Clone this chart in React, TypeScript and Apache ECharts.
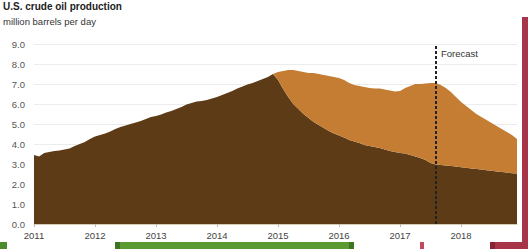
import React, { useEffect, useRef } from "react";
import * as echarts from "echarts";

const years = ["2011", "2012", "2013", "2014", "2015", "2016", "2017", "2018"];
const months = ["01", "02", "03", "04", "05", "06", "07", "08", "09", "10", "11", "12"];
const categories: string[] = years.flatMap((y) => months.map((m) => `${y}-${m}`));

const pre2015Prod = [
  3.45, 3.38, 3.55, 3.6, 3.65, 3.68, 3.72, 3.78, 3.9, 4.0, 4.1, 4.25,
  4.38, 4.45, 4.52, 4.62, 4.75, 4.85, 4.92, 5.0, 5.08, 5.15, 5.25, 5.35,
  5.4, 5.48, 5.58, 5.65, 5.75, 5.85, 5.97, 6.05, 6.12, 6.15, 6.2, 6.28,
  6.35, 6.45, 6.55, 6.65, 6.78, 6.88, 6.98, 7.05, 7.15, 7.25, 7.35, 7.5,
  7.2, 6.75, 6.35, 6.0, 5.75, 5.5, 5.3, 5.1, 4.95, 4.8, 4.65, 4.52,
  4.42, 4.32, 4.2, 4.12, 4.05, 3.95, 3.9, 3.85, 3.8, 3.72, 3.65, 3.6,
  3.55, 3.52, 3.45, 3.38, 3.3, 3.2, 3.05, 2.98, 2.95, 2.92, 2.9, 2.87,
  2.84, 2.81, 2.78, 2.75, 2.72, 2.69, 2.66, 2.63, 2.6, 2.57, 2.54, 2.52,
];

const newWellProd = [
  0, 0, 0, 0, 0, 0, 0, 0, 0, 0, 0, 0,
  0, 0, 0, 0, 0, 0, 0, 0, 0, 0, 0, 0,
  0, 0, 0, 0, 0, 0, 0, 0, 0, 0, 0, 0,
  0, 0, 0, 0, 0, 0, 0, 0, 0, 0, 0, 0,
  0.4, 0.9, 1.35, 1.7, 1.9, 2.1, 2.25, 2.45, 2.55, 2.65, 2.75, 2.83,
  2.88, 2.88, 2.85, 2.83, 2.85, 2.9, 2.9, 2.93, 2.98, 3.0, 3.03, 3.02,
  3.1, 3.28, 3.45, 3.62, 3.7, 3.82, 4.0, 4.07, 4.0, 3.88, 3.7, 3.48,
  3.26, 3.09, 2.92, 2.75, 2.63, 2.51, 2.39, 2.27, 2.15, 2.03, 1.91, 1.73,
];

const forecastStart = "2017-08";
const FONT = "Liberation Sans, Arial, sans-serif";

export default function App() {
  const ref = useRef<HTMLDivElement>(null);
  useEffect(() => {
    if (!ref.current) return;
    const chart = echarts.init(ref.current, undefined, { renderer: "svg" });
    chart.setOption({
      animation: false,
      textStyle: { fontFamily: FONT },
      title: {
        text: "U.S. crude oil production",
        subtext: "million barrels per day",
        left: 1,
        top: 0,
        padding: [1, 2, 0, 2],
        itemGap: 5,
        textStyle: { fontSize: 10, fontWeight: "bold", color: "#222", fontFamily: FONT },
        subtextStyle: { fontSize: 9.5, color: "#333", fontFamily: FONT },
      },
      grid: { left: 34, right: 11, top: 44, bottom: 25 },
      xAxis: {
        type: "category",
        data: categories,
        boundaryGap: false,
        axisLine: { show: true, lineStyle: { color: "#d8cbb5", width: 1 } },
        axisTick: {
          show: true,
          interval: (i: number) => i % 12 === 0,
          length: 3,
          lineStyle: { color: "#bbb" },
        },
        axisLabel: {
          interval: (i: number) => i % 12 === 0,
          formatter: (v: string) => v.slice(0, 4),
          fontSize: 9.5,
          color: "#444",
          margin: 6,
          fontFamily: FONT,
        },
        splitLine: { show: false },
      },
      yAxis: {
        type: "value",
        min: 0,
        max: 9,
        interval: 1,
        axisLine: { show: false },
        axisTick: { show: false },
        axisLabel: {
          formatter: (v: number) => v.toFixed(1),
          fontSize: 9.5,
          color: "#555",
          margin: 9,
          fontFamily: FONT,
        },
        splitLine: { lineStyle: { color: "#ececec", width: 1 } },
      },
      series: [
        {
          name: "Pre-2015 well prod",
          type: "line",
          stack: "prod",
          data: pre2015Prod,
          symbol: "none",
          lineStyle: { width: 0 },
          itemStyle: { color: "#5c3b16" },
          areaStyle: { color: "#5c3b16", opacity: 1 },
        },
        {
          name: "2015-latest well prod",
          type: "line",
          stack: "prod",
          data: newWellProd,
          symbol: "none",
          lineStyle: { width: 0 },
          itemStyle: { color: "#c47d33" },
          areaStyle: { color: "#c47d33", opacity: 1 },
          markLine: {
            silent: true,
            symbol: "none",
            label: { show: false },
            lineStyle: { color: "#222", type: [3, 2], width: 2 },
            data: [{ xAxis: forecastStart }],
          },
        },
      ],
      graphic: [
        {
          type: "text",
          left: 441,
          top: 48,
          style: { text: "Forecast", fontSize: 9.5, fill: "#333", fontFamily: FONT },
        },
        {
          type: "text",
          x: 245,
          y: 161,
          style: {
            text: "Pre-2015 well prod",
            fontSize: 10.5,
            fill: "#f4ede4",
            fontFamily: FONT,
            align: "center",
            verticalAlign: "middle",
          },
        },
        {
          type: "text",
          x: 378,
          y: 113,
          style: {
            text: "2015-latest well prod",
            fontSize: 10.5,
            fill: "#fbf1e4",
            fontFamily: FONT,
            align: "center",
            verticalAlign: "middle",
          },
        },
        { type: "rect", shape: { x: 0, y: 242, width: 7, height: 7 }, style: { fill: "#4d8a2a" } },
        { type: "rect", shape: { x: 115, y: 242, width: 239, height: 7 }, style: { fill: "#5a9a32" } },
        { type: "rect", shape: { x: 115, y: 242, width: 5, height: 7 }, style: { fill: "#3f7522" } },
        { type: "rect", shape: { x: 349, y: 242, width: 5, height: 7 }, style: { fill: "#3f7522" } },
        { type: "rect", shape: { x: 420, y: 242, width: 4, height: 7 }, style: { fill: "#c24a5f" } },
        { type: "rect", shape: { x: 490, y: 242, width: 38, height: 7 }, style: { fill: "#a8344a" } },
        { type: "rect", shape: { x: 490, y: 242, width: 5, height: 7 }, style: { fill: "#862436" } },
        { type: "rect", shape: { x: 522, y: 17, width: 6, height: 232 }, style: { fill: "#a8344a" } },
      ],
    });
    return () => chart.dispose();
  }, []);
  return (
    <div
      ref={ref}
      style={{ position: "fixed", left: 0, top: 0, width: 528, height: 249, background: "#fff" }}
    />
  );
}
